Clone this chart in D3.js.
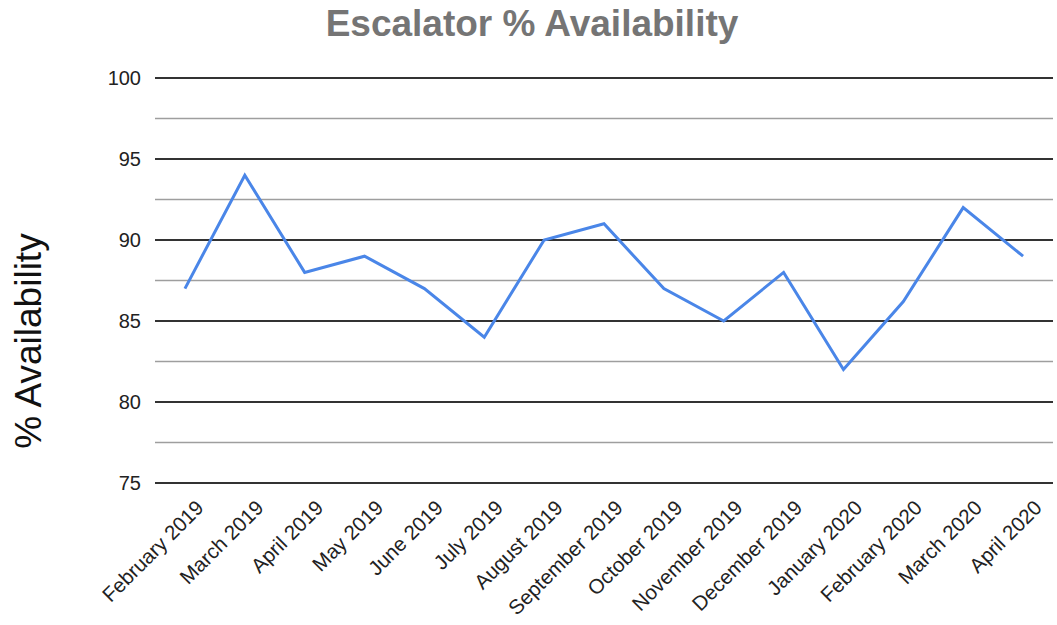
<!DOCTYPE html>
<html>
<head>
<meta charset="utf-8">
<script src="https://cdn.jsdelivr.net/npm/d3@7"></script>
<style>
  body { margin: 0; background: #fff; }
  text { font-family: "Liberation Sans", Arial, sans-serif; }
</style>
</head>
<body>
<div id="chart"></div>
<script>
// data
var months = ["February 2019", "March 2019", "April 2019", "May 2019", "June 2019",
    "July 2019", "August 2019", "September 2019", "October 2019", "November 2019",
    "December 2019", "January 2020", "February 2020", "March 2020", "April 2020"];
var availability = [87, 94, 88, 89, 87, 84, 90, 91, 87, 85, 88, 82, 86.2, 92, 89];
var majorTicks = [75, 80, 85, 90, 95, 100];
var minorTicks = [77.5, 82.5, 87.5, 92.5, 97.5];

var width = 1057,
    height = 625,
    plotLeft = 155,
    plotRight = 1053,
    plotTop = 78,
    plotBottom = 483;

var svg = d3.select("#chart")
    .append("svg")
    .attr("width", width)
    .attr("height", height);

var x = d3.scalePoint()
    .domain(months)
    .range([plotLeft, plotRight])
    .padding(0.5);

var y = d3.scaleLinear()
    .domain([75, 100])
    .range([plotBottom, plotTop]);

// minor grid
svg.selectAll("line.minor")
    .data(minorTicks)
    .enter()
    .append("line")
    .attr("class", "minor")
    .attr("x1", plotLeft).attr("x2", plotRight)
    .attr("y1", function (d) { return y(d); })
    .attr("y2", function (d) { return y(d); })
    .attr("stroke", "#9e9e9e")
    .attr("stroke-width", 1.5);

// major grid
svg.selectAll("line.major")
    .data(majorTicks)
    .enter()
    .append("line")
    .attr("class", "major")
    .attr("x1", plotLeft).attr("x2", plotRight)
    .attr("y1", function (d) { return y(d); })
    .attr("y2", function (d) { return y(d); })
    .attr("stroke", "#333")
    .attr("stroke-width", 2);

// y labels
svg.selectAll("text.ylab")
    .data(majorTicks)
    .enter()
    .append("text")
    .attr("class", "ylab")
    .attr("x", 141)
    .attr("y", function (d) { return y(d); })
    .attr("dy", "0.36em")
    .attr("text-anchor", "end")
    .attr("font-size", 20)
    .attr("fill", "#222")
    .text(function (d) { return d; });

// x labels
svg.selectAll("text.xlab")
    .data(months)
    .enter()
    .append("text")
    .attr("class", "xlab")
    .attr("transform", function (d) {
        return "translate(" + (x(d) + 20) + "," + 509 + ") rotate(-45)";
    })
    .attr("text-anchor", "end")
    .attr("font-size", 20.5)
    .attr("fill", "#222")
    .text(function (d) { return d; });

// line
var line = d3.line()
    .x(function (d, i) { return x(months[i]); })
    .y(function (d) { return y(d); });

svg.append("path")
    .datum(availability)
    .attr("d", line)
    .attr("fill", "none")
    .attr("stroke", "#4a86e8")
    .attr("stroke-width", 3)
    .attr("stroke-linejoin", "miter");

// title
svg.append("text")
    .attr("x", 532)
    .attr("y", 36)
    .attr("text-anchor", "middle")
    .attr("font-size", 37)
    .attr("font-weight", "bold")
    .attr("fill", "#757575")
    .text("Escalator % Availability");

// y axis title
svg.append("text")
    .attr("transform", "translate(41,341) rotate(-90)")
    .attr("text-anchor", "middle")
    .attr("font-size", 37)
    .attr("fill", "#111")
    .text("% Availability");
</script>
</body>
</html>
